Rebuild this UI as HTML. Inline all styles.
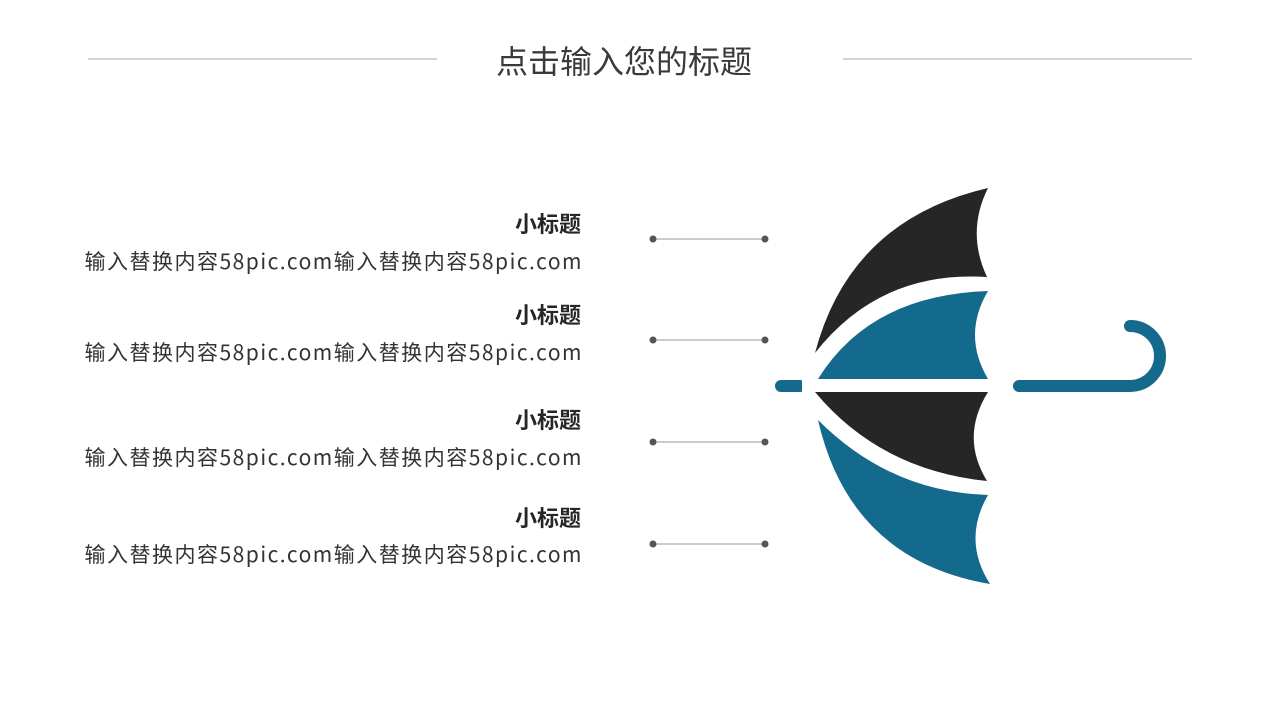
<!DOCTYPE html>
<html><head><meta charset="utf-8"><style>
body{margin:0;width:1280px;height:720px;background:#fff;position:relative;overflow:hidden;font-family:"Noto Sans CJK SC","Liberation Sans",sans-serif;color:#333}
.t{position:absolute;left:0;width:1280px;top:38px;text-align:center;font-size:32px;line-height:44px;color:#3a3a3a;padding-left:0}
.b{position:absolute;right:699px;text-align:right;white-space:nowrap}
.h{font-size:22px;font-weight:bold;line-height:28px;color:#262626}
.p{font-size:21px;line-height:30px;color:#333;letter-spacing:1.5px;right:697px}
</style></head><body>
<div class="t" style="left:-16px">点击输入您的标题</div>
<svg width="1280" height="720" style="position:absolute;left:0;top:0">
<line x1="88" y1="59" x2="437" y2="59" stroke="#aaa" stroke-width="1"/>
<line x1="843" y1="59" x2="1192" y2="59" stroke="#aaa" stroke-width="1"/>
<g stroke="#999" stroke-width="1" fill="#555">
<line x1="653" y1="239" x2="765" y2="239"/><circle cx="653" cy="239" r="3.5" stroke="none"/><circle cx="765" cy="239" r="3.5" stroke="none"/>
<line x1="653" y1="340" x2="765" y2="340"/><circle cx="653" cy="340" r="3.5" stroke="none"/><circle cx="765" cy="340" r="3.5" stroke="none"/>
<line x1="653" y1="442" x2="765" y2="442"/><circle cx="653" cy="442" r="3.5" stroke="none"/><circle cx="765" cy="442" r="3.5" stroke="none"/>
<line x1="653" y1="544" x2="765" y2="544"/><circle cx="653" cy="544" r="3.5" stroke="none"/><circle cx="765" cy="544" r="3.5" stroke="none"/>
</g>
<path d="M988 188 Q966 232 987 277 Q880 270 815 353 Q850 220 988 188Z" fill="#262626"/>
<path d="M988 291 Q962 335 988 379 L818 379 Q870 295 988 291Z" fill="#136a8c"/>
<path d="M815 392 L988 392 Q960 437 987 481 Q880 470 815 392Z" fill="#262626"/>
<path d="M818 420 Q890 492 988 495 Q962 540 990 584 Q850 560 818 420Z" fill="#136a8c"/>
<g stroke="#136a8c" stroke-width="12" stroke-linecap="round" fill="none">
<line x1="781" y1="386" x2="800" y2="386"/>
<path d="M1019 386 L1130 386 A30 30 0 0 0 1130 326"/>
</g>
<rect x="802" y="378" width="12" height="16" fill="#fff"/>
</svg>
<div class="b h" style="top:209px">小标题</div>
<div class="b p" style="top:246px">输入替换内容58pic.com输入替换内容58pic.com</div>
<div class="b h" style="top:300px">小标题</div>
<div class="b p" style="top:337px">输入替换内容58pic.com输入替换内容58pic.com</div>
<div class="b h" style="top:405px">小标题</div>
<div class="b p" style="top:442px">输入替换内容58pic.com输入替换内容58pic.com</div>
<div class="b h" style="top:503px">小标题</div>
<div class="b p" style="top:539px">输入替换内容58pic.com输入替换内容58pic.com</div>
</body></html>
